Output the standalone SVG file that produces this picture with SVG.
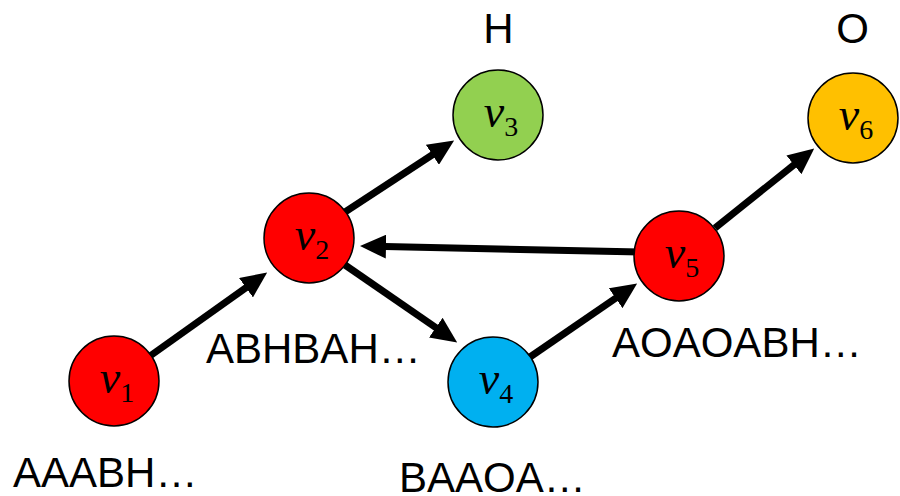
<svg xmlns="http://www.w3.org/2000/svg" width="900" height="496" viewBox="0 0 900 496">
  <style>
    .edge { fill: none; stroke: #000; stroke-width: 7; marker-end: url(#arrow); }
    .node { stroke: #000; stroke-width: 1.5; }
    .red { fill: #FF0000; }
    .green { fill: #92D050; }
    .blue { fill: #00B0F0; }
    .amber { fill: #FFC000; }
    .mv { font-family: "Liberation Serif", "DejaVu Serif", serif; font-style: italic; font-size: 46px; fill: #000; text-anchor: middle; }
    .sub { font-style: normal; font-size: 28px; }
    .lbl { font-family: "Liberation Sans", Arial, sans-serif; font-size: 42px; fill: #000; }
  </style>
  <defs>
    <marker id="arrow" viewBox="0 0 26 24" markerWidth="26" markerHeight="24" refX="1" refY="12" orient="auto" markerUnits="userSpaceOnUse">
      <path d="M0,0 L26,12 L0,24 z" fill="#000"/>
    </marker>
  </defs>

  <!-- connectors (drawn beneath the nodes) -->
  <g id="edges">
    <path id="e1-2" class="edge" d="M150,356 L246.8,287.1"/>
    <path id="e2-3" class="edge" d="M345,212 L433.2,154.2"/>
    <path id="e2-4" class="edge" d="M345,265 L436.6,328.2"/>
    <path id="e4-5" class="edge" d="M530,357 L616.5,297.7"/>
    <path id="e5-2" class="edge" d="M640,252 L385,246.6"/>
    <path id="e5-6" class="edge" d="M715,228 L794.7,164.2"/>
  </g>

  <g id="v1">
    <circle class="node red" cx="114" cy="381" r="45"/>
    <text class="mv" x="117" y="393">v<tspan class="sub" dy="9">1</tspan></text>
  </g>
  <g id="v2">
    <circle class="node red" cx="309" cy="238" r="45"/>
    <text class="mv" x="312" y="250">v<tspan class="sub" dy="9">2</tspan></text>
  </g>
  <g id="v3">
    <circle class="node green" cx="498" cy="115" r="45"/>
    <text class="mv" x="501" y="127">v<tspan class="sub" dy="9">3</tspan></text>
  </g>
  <g id="v4">
    <circle class="node blue" cx="493" cy="382" r="45"/>
    <text class="mv" x="496" y="394">v<tspan class="sub" dy="9">4</tspan></text>
  </g>
  <g id="v5">
    <circle class="node red" cx="679" cy="256" r="45"/>
    <text class="mv" x="682" y="268">v<tspan class="sub" dy="9">5</tspan></text>
  </g>
  <g id="v6">
    <circle class="node amber" cx="853" cy="118" r="45"/>
    <text class="mv" x="856" y="130">v<tspan class="sub" dy="9">6</tspan></text>
  </g>

  <!-- sequence and element labels -->
  <g id="labels">
    <text class="lbl" x="13" y="487">AAABH…</text>
    <text class="lbl" x="206" y="363">ABHBAH…</text>
    <text class="lbl" x="399" y="492">BAAOA…</text>
    <text class="lbl" x="612" y="357">AOAOABH…</text>
    <text class="lbl" x="498.5" y="43" text-anchor="middle">H</text>
    <text class="lbl" x="852.5" y="43" text-anchor="middle">O</text>
  </g>
</svg>
